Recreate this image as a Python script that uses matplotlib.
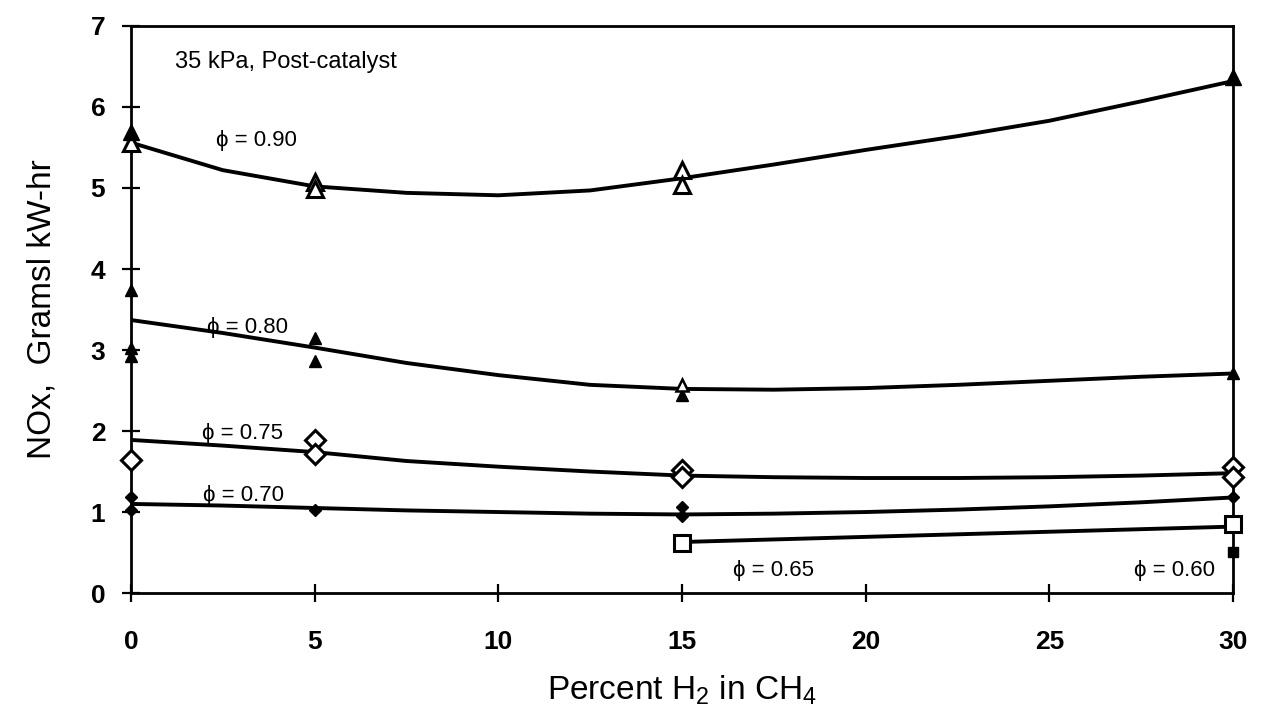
import numpy as np
import matplotlib
matplotlib.use("Agg")
import matplotlib.pyplot as plt

plt.rcParams['font.family'] = ['Liberation Sans', 'DejaVu Sans']
plt.rcParams['mathtext.default'] = 'regular'

# measured NOx (g/kW-hr) vs percent H2, one set per equivalence ratio
x90_open = [0, 5, 5, 15, 15]
y90_open = [5.56, 5.08, 4.99, 5.22, 5.04]
x90_fill = [0, 30]
y90_fill = [5.69, 6.37]

x80 = [0, 0, 0, 5, 5, 15, 30]
y80 = [3.74, 3.03, 2.92, 3.15, 2.86, 2.45, 2.72]
x80_open = [15]
y80_open = [2.57]

x75 = [0, 5, 5, 15, 15, 30, 30]
y75 = [1.64, 1.89, 1.72, 1.52, 1.43, 1.56, 1.43]

x70 = [0, 0, 5, 15, 15, 30]
y70 = [1.18, 1.03, 1.03, 1.06, 0.95, 1.19]

x65 = [15, 30]
y65 = [0.62, 0.85]

x60 = [30]
y60 = [0.51]

# fitted curves
xc = [0, 2.5, 5, 7.5, 10, 12.5, 15, 17.5, 20, 22.5, 25, 27.5, 30]
c90 = [5.56, 5.22, 5.02, 4.94, 4.91, 4.97, 5.12, 5.29, 5.47, 5.64, 5.83, 6.07, 6.32]
c80 = [3.37, 3.21, 3.03, 2.84, 2.69, 2.57, 2.52, 2.51, 2.53, 2.57, 2.62, 2.67, 2.71]
c75 = [1.89, 1.82, 1.74, 1.63, 1.56, 1.50, 1.45, 1.43, 1.42, 1.42, 1.43, 1.45, 1.48]
c70 = [1.10, 1.08, 1.05, 1.02, 1.00, 0.98, 0.97, 0.98, 1.00, 1.03, 1.07, 1.12, 1.18]
xc65 = [15, 30]
c65 = [0.63, 0.82]

fig = plt.figure(figsize=(12.61, 7.06), dpi=100)
ax = fig.add_axes([0.1039, 0.160, 0.8739, 0.8032])

lw = 2.8
for curve in (c90, c80, c75, c70):
    ax.plot(xc, curve, color='black', lw=lw, solid_joinstyle='round')
ax.plot(xc65, c65, color='black', lw=lw)

mk = dict(ls='none', clip_on=False, zorder=3)
ax.plot(x90_open, y90_open, marker='^', ms=12, mfc='white', mec='black', mew=2.2, **mk)
ax.plot(x90_fill, y90_fill, marker='^', ms=12, color='black', **mk)
ax.plot(x80, y80, marker='^', ms=8, color='black', **mk)
ax.plot(x80_open, y80_open, marker='^', ms=9, mfc='white', mec='black', mew=1.8, **mk)
ax.plot(x75, y75, marker='D', ms=10, mfc='white', mec='black', mew=2.2, **mk)
ax.plot(x70, y70, marker='D', ms=6, color='black', **mk)
ax.plot(x65, y65, marker='s', ms=12, mfc='white', mec='black', mew=2.2, **mk)
ax.plot(x60, y60, marker='s', ms=7, color='black', **mk)

tfs = 16
ax.text(1.2, 6.56, '35 kPa, Post-catalyst', fontsize=17, va='center')
ax.text(2.3, 5.59, '\u03d5 = 0.90', fontsize=tfs, va='center')
ax.text(2.07, 3.28, '\u03d5 = 0.80', fontsize=tfs, va='center')
ax.text(1.93, 1.97, '\u03d5 = 0.75', fontsize=tfs, va='center')
ax.text(1.96, 1.21, '\u03d5 = 0.70', fontsize=tfs, va='center')
ax.text(16.4, 0.28, '\u03d5 = 0.65', fontsize=tfs, va='center')
ax.text(27.3, 0.28, '\u03d5 = 0.60', fontsize=tfs, va='center')

ax.set_xlim(0, 30)
ax.set_ylim(0, 7)
ax.set_xticks([0, 5, 10, 15, 20, 25, 30])
ax.set_yticks([0, 1, 2, 3, 4, 5, 6, 7])
ax.tick_params(axis='both', direction='inout', length=13, width=1.6, labelsize=19)
ax.tick_params(axis='x', pad=20)
ax.tick_params(axis='y', pad=12)
for lab in ax.get_xticklabels() + ax.get_yticklabels():
    lab.set_fontweight('bold')
for sp in ax.spines.values():
    sp.set_linewidth(2.0)

ax.set_xlabel('Percent H$_2$ in CH$_4$', fontsize=24, labelpad=14)
ax.set_ylabel('NOx,  Gramsl kW-hr', fontsize=24, labelpad=24)

fig.savefig('out.png', dpi=100)
